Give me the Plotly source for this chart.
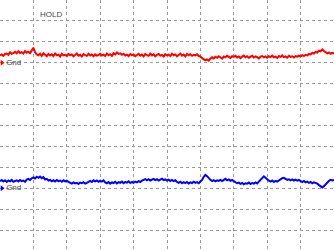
import plotly.graph_objects as go

# time axis in divisions (0..10), step 0.05
time_div = [i / 20 for i in range(201)]

# channel 1 (red) trace, vertical position in divisions
ch1_div = [
    3.35, 3.40, 3.33, 3.42, 3.44, 3.38, 3.50, 3.43, 3.46, 3.52, 3.45, 3.55, 3.47, 3.51, 3.44, 3.56, 3.48, 3.53, 3.46, 3.58,
    3.72, 3.50, 3.40, 3.36, 3.43, 3.33, 3.45, 3.38, 3.31, 3.42, 3.35, 3.40, 3.32, 3.44, 3.36, 3.39, 3.30, 3.43, 3.35, 3.38,
    3.32, 3.42, 3.36, 3.40, 3.31, 3.37, 3.44, 3.34, 3.38, 3.30, 3.41, 3.36, 3.33, 3.43, 3.35, 3.39, 3.31, 3.40, 3.34, 3.37,
    3.43, 3.35, 3.39, 3.32, 3.44, 3.36, 3.41, 3.33, 3.46, 3.40, 3.49, 3.42, 3.45, 3.38, 3.43, 3.35, 3.39, 3.32, 3.41, 3.36,
    3.40, 3.31, 3.38, 3.43, 3.34, 3.39, 3.30, 3.42, 3.36, 3.33, 3.44, 3.35, 3.40, 3.31, 3.38, 3.42, 3.34, 3.37, 3.30, 3.41,
    3.35, 3.39, 3.32, 3.43, 3.36, 3.40, 3.31, 3.38, 3.44, 3.34, 3.39, 3.30, 3.42, 3.36, 3.41, 3.33, 3.38, 3.35, 3.40, 3.32,
    3.30, 3.22, 3.18, 3.12, 3.16, 3.10, 3.20, 3.26, 3.21, 3.29, 3.24, 3.31, 3.25, 3.20, 3.30, 3.26, 3.33, 3.27, 3.23, 3.31,
    3.28, 3.33, 3.25, 3.30, 3.22, 3.29, 3.34, 3.26, 3.31, 3.24, 3.28, 3.33, 3.25, 3.30, 3.27, 3.21, 3.29, 3.32, 3.26, 3.30,
    3.24, 3.31, 3.27, 3.34, 3.26, 3.29, 3.23, 3.32, 3.28, 3.35, 3.27, 3.30, 3.24, 3.33, 3.28, 3.31, 3.25, 3.32, 3.29, 3.34,
    3.30, 3.36, 3.32, 3.38, 3.35, 3.42, 3.40, 3.47, 3.44, 3.52, 3.49, 3.58, 3.55, 3.64, 3.56, 3.50, 3.45, 3.49, 3.43, 3.47,
    3.45,
]

# channel 2 (blue) trace
ch2_div = [
    -2.66, -2.61, -2.68, -2.62, -2.70, -2.63, -2.67, -2.60, -2.69, -2.64, -2.62, -2.68, -2.61, -2.66, -2.63, -2.69, -2.59, -2.55, -2.60, -2.52,
    -2.48, -2.53, -2.45, -2.50, -2.44, -2.52, -2.47, -2.58, -2.55, -2.63, -2.60, -2.67, -2.62, -2.68, -2.61, -2.66, -2.63, -2.69, -2.62, -2.67,
    -2.64, -2.70, -2.73, -2.78, -2.72, -2.77, -2.74, -2.80, -2.73, -2.76, -2.71, -2.78, -2.74, -2.69, -2.65, -2.70, -2.62, -2.67, -2.63, -2.69,
    -2.64, -2.68, -2.62, -2.72, -2.76, -2.70, -2.78, -2.72, -2.75, -2.69, -2.77, -2.71, -2.74, -2.68, -2.76, -2.70, -2.73, -2.67, -2.75, -2.70,
    -2.74, -2.68, -2.72, -2.66, -2.70, -2.64, -2.60, -2.56, -2.62, -2.57, -2.63, -2.58, -2.55, -2.61, -2.57, -2.63, -2.59, -2.54, -2.61, -2.58,
    -2.63, -2.59, -2.65, -2.60, -2.66, -2.62, -2.70, -2.74, -2.69, -2.76, -2.71, -2.75, -2.70, -2.77, -2.72, -2.75, -2.69, -2.74, -2.71, -2.76,
    -2.68, -2.60, -2.45, -2.36, -2.42, -2.52, -2.60, -2.66, -2.61, -2.67, -2.62, -2.65, -2.60, -2.66, -2.61, -2.55, -2.62, -2.58, -2.64, -2.60,
    -2.66, -2.71, -2.76, -2.73, -2.79, -2.75, -2.81, -2.76, -2.78, -2.73, -2.80, -2.75, -2.78, -2.72, -2.77, -2.68, -2.58, -2.48, -2.43, -2.50,
    -2.58, -2.64, -2.68, -2.63, -2.70, -2.65, -2.68, -2.62, -2.58, -2.52, -2.50, -2.56, -2.60, -2.57, -2.62, -2.58, -2.63, -2.59, -2.64, -2.60,
    -2.66, -2.70, -2.65, -2.72, -2.68, -2.74, -2.70, -2.76, -2.72, -2.74, -2.78, -2.85, -2.92, -2.96, -2.90, -2.80, -2.70, -2.64, -2.60, -2.63,
    -2.61,
]

gnd_levels = [3, -3]
gnd_colors = ["#ff0000", "#0000ff"]
status_text = "HOLD"

fig = go.Figure()
fig.add_trace(go.Scatter(x=time_div, y=ch1_div, mode="lines",
                         line=dict(color="#ff0000", width=2), hoverinfo="skip"))
fig.add_trace(go.Scatter(x=time_div, y=ch2_div, mode="lines",
                         line=dict(color="#0000ff", width=2), hoverinfo="skip"))

for lvl, col in zip(gnd_levels, gnd_colors):
    fig.add_trace(go.Scatter(x=[0.06], y=[lvl], mode="markers+text",
                             marker=dict(symbol="triangle-right", size=5, color=col),
                             text=["Gnd"], textposition="middle right",
                             textfont=dict(family="Liberation Sans, Arial", size=8, color="#444444"),
                             hoverinfo="skip"))

fig.add_annotation(x=1.15, y=5.3, text=status_text, showarrow=False,
                   xanchor="left", yanchor="middle",
                   font=dict(family="Liberation Sans, Arial", size=8, color="#444444"))

grid_style = dict(showgrid=True, gridcolor="#999999", gridwidth=1, griddash="3px,3px",
                  zeroline=False, showticklabels=False, ticks="", showline=False)
fig.update_xaxes(range=[0, 10], tickvals=list(range(1, 10)), **grid_style)
fig.update_yaxes(range=[-6, 6], tickvals=list(range(-5, 6)), **grid_style)

fig.update_layout(width=334, height=251, margin=dict(l=0, r=0, t=0, b=0),
                  paper_bgcolor="white", plot_bgcolor="white", showlegend=False)

fig.write_html("out.html", config={"displayModeBar": False})
